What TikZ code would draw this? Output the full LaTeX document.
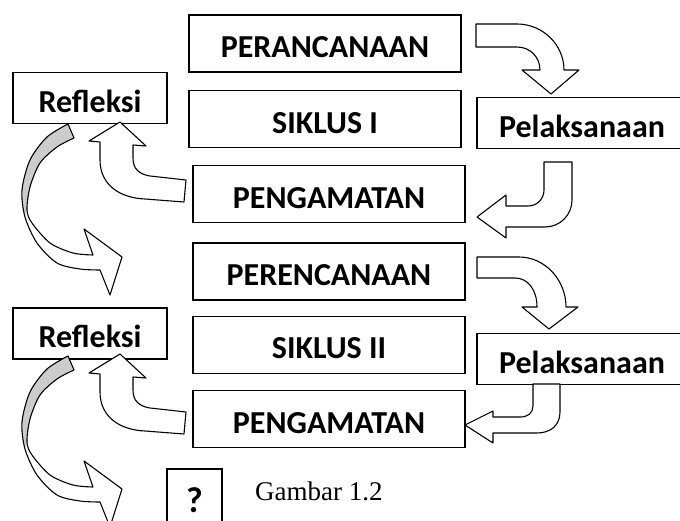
\documentclass[tikz,border=0pt]{standalone}
\usepackage{fontspec}
\setmainfont{Carlito}
\newfontfamily\captionfont{Liberation Serif}
\usetikzlibrary{positioning}

\begin{document}
\begin{tikzpicture}[
    x=1pt, y=-1pt,
    stage/.style={draw, rectangle, line width=1.3pt, minimum width=272pt, minimum height=57pt, inner sep=0pt, text height=30pt, text depth=1.4pt, font=\fontsize{32}{38}\selectfont\bfseries},
    side/.style={draw, rectangle, line width=1.3pt, minimum height=51pt, inner sep=0pt, text height=30pt, text depth=1.4pt, font=\fontsize{32}{38}\selectfont\bfseries},
    bigarrow/.style={draw, fill=white, line width=1.1pt, line join=round},
    backface/.style={fill=black!20}
]
    \useasboundingbox (0,0) rectangle (680,521);
    \clip (0,0) rectangle (680,521);

    % siklus I
    \node[stage] (plan1) at (325,43.5) {PERANCANAAN};
    \node[stage, below=17pt of plan1] (cycle1) {SIKLUS I};
    \node[stage, below=17pt of cycle1, xshift=4pt] (obs1) {PENGAMATAN};
    \node[side, minimum width=154pt] (refl1) at (90,98) {Refleksi};
    \node[side, minimum width=210pt] (exec1) at (582,123) {Pelaksanaan};

    % siklus II
    \node[stage, below=19pt of obs1] (plan2) {PERENCANAAN};
    \node[stage, below=15pt of plan2] (cycle2) {SIKLUS II};
    \node[stage, below=16pt of cycle2] (obs2) {PENGAMATAN};
    \node[side, minimum width=154pt] (refl2) at (90,333.5) {Refleksi};
    \node[side, minimum width=210pt] (exec2) at (582,359) {Pelaksanaan};

    \node[draw, line width=1.3pt, minimum width=55pt, minimum height=62pt, inner sep=0pt, font=\fontsize{36}{42}\selectfont\bfseries] (query) at (194.5,500) {?};
    \node[anchor=base west, inner sep=0pt, font=\captionfont\fontsize{27}{31}\selectfont] (caption) at (255,500) {Gambar 1.2};

    % perancanaan -> pelaksanaan
    \draw[bigarrow] (476,24) -- (517,24) .. controls (543,24) and (564,45) .. (564,70) -- (579,70) -- (551,94) -- (522,70) -- (540,70) .. controls (540,57) and (530,47) .. (517,47) -- (476,47) -- cycle;
    \draw[bigarrow] (477,257) -- (519,257) .. controls (545,257) and (566,280) .. (566,307) -- (578,307) -- (549,329) -- (522,307) -- (537,307) .. controls (537,290) and (528,278) .. (515,278) -- (477,278) -- cycle;

    % pelaksanaan -> pengamatan
    \draw[bigarrow] (544,162) -- (544,190) .. controls (544,199) and (537,206) .. (528,206) -- (506,206) -- (506,195) -- (477,217) -- (506,238) -- (506,227) -- (545,227) .. controls (560,227) and (572,215) .. (572,200) -- (572,162) -- cycle;
    \draw[bigarrow] (533,384) -- (533,406) .. controls (533,413) and (528,417) .. (520,417) -- (493,417) -- (493,411) -- (465,425) -- (493,443) -- (493,433) -- (537,433) .. controls (551,433) and (560,425) .. (560,412) -- (560,384) -- cycle;

    % pengamatan -> refleksi, refleksi -> siklus berikutnya
    \foreach \dy in {0,232} {
        \begin{scope}[shift={(0,\dy)}]
            \draw[bigarrow] (186,180) -- (150,176) .. controls (138,174) and (133,168) .. (133,158) -- (133,145) -- (146,146) -- (120,122) -- (89,141) -- (100,142) -- (100,160) .. controls (100,185) and (120,198) .. (145,199) -- (184,202) -- cycle;
            \fill[white] plot[smooth] coordinates {(68,124) (47,137) (30,160) (22,190) (25,217) (37,243) (57,263) (80,269) (100,270)} -- (110,295) -- (122,257) -- (84,229) -- (93,255) -- plot[smooth] coordinates {(93,255) (73,253) (50,243) (32,223) (27,210) (30,187) (40,163) (57,147) (74,138)} -- cycle;
            \fill[backface] plot[smooth] coordinates {(68,124) (47,137) (30,160) (22,190) (25,216)} -- plot[smooth] coordinates {(27,210) (30,187) (40,163) (57,147) (74,138)} -- cycle;
            \draw[line width=1.1pt, line join=round] plot[smooth] coordinates {(68,124) (47,137) (30,160) (22,190) (25,217) (37,243) (57,263) (80,269) (100,270)} -- (110,295) -- (122,257) -- (84,229) -- (93,255) -- plot[smooth] coordinates {(93,255) (73,253) (50,243) (32,223) (27,210) (30,187) (40,163) (57,147) (74,138)} -- cycle;
        \end{scope}
    }
\end{tikzpicture}
\end{document}
